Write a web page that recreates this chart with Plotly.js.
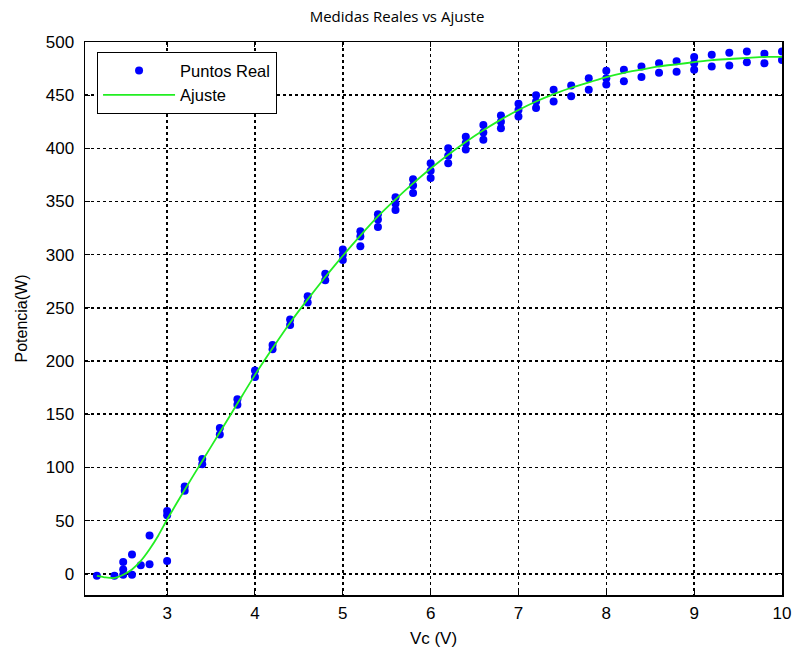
<!DOCTYPE html>
<html>
<head>
<meta charset="utf-8">
<script src="https://cdn.plot.ly/plotly-3.0.1.min.js"></script>
<style>html,body{margin:0;padding:0;background:#fff;}#chart{width:794px;height:650px;}</style>
</head>
<body>
<div id="chart"></div>
<script>
// Measured points (Vc in volts, Potencia in watts)
var vcPoints = [
  2.2,
  2.4,
  2.5, 2.5, 2.5,
  2.6, 2.6,
  2.7,
  2.8, 2.8,
  3.0, 3.0, 3.0,
  3.2, 3.2,
  3.4, 3.4,
  3.6, 3.6,
  3.8, 3.8,
  4.0, 4.0,
  4.2, 4.2,
  4.4, 4.4,
  4.6, 4.6,
  4.8, 4.8,
  5.0, 5.0, 5.0,
  5.2, 5.2, 5.2,
  5.4, 5.4, 5.4,
  5.6, 5.6, 5.6,
  5.8, 5.8, 5.8,
  6.0, 6.0, 6.0,
  6.2, 6.2, 6.2,
  6.4, 6.4, 6.4,
  6.6, 6.6, 6.6,
  6.8, 6.8, 6.8,
  7.0, 7.0, 7.0,
  7.2, 7.2, 7.2,
  7.4, 7.4,
  7.6, 7.6,
  7.8, 7.8,
  8.0, 8.0, 8.0,
  8.2, 8.2,
  8.4, 8.4,
  8.6, 8.6,
  8.8, 8.8,
  9.0, 9.0, 9.0,
  9.2, 9.2,
  9.4, 9.4,
  9.6, 9.6,
  9.8, 9.8,
  10.0, 10.0
];
var potPoints = [
  -2,
  -2,
  -1, 4, 11,
  -1, 18,
  8,
  9, 36,
  12, 55, 59,
  78, 82,
  103, 108,
  131, 137,
  159, 164,
  185, 191,
  211, 215,
  234, 239,
  255, 261,
  276, 282,
  295, 300, 305,
  308, 317, 322,
  326, 333, 338,
  342, 348, 354,
  358, 365, 371,
  372, 379, 386,
  386, 393, 400,
  399, 405, 411,
  408, 415, 422,
  419, 425, 431,
  430, 436, 442,
  438, 444, 450,
  444, 455,
  449, 459,
  455, 466,
  460, 466, 473,
  463, 474,
  467, 477,
  471, 480,
  472, 482,
  474, 480, 486,
  477, 488,
  478, 490,
  481, 491,
  480, 489,
  483, 491
];

// Fitted curve
var vcFit = [2.2, 2.3, 2.4, 2.5, 2.6, 2.7, 2.8, 2.9, 3.0, 3.2, 3.4, 3.6, 3.8, 4.0, 4.2, 4.4, 4.6, 4.8, 5.0, 5.2, 5.4, 5.6, 5.8, 6.0, 6.2, 6.4, 6.6, 6.8, 7.0, 7.2, 7.4, 7.6, 7.8, 8.0, 8.2, 8.4, 8.6, 8.8, 9.0, 9.2, 9.4, 9.6, 9.8, 10.0];
var potFit = [-2, -3.5, -4, -1, 4, 12, 23, 36, 51, 79, 106, 133, 160, 187, 212, 236, 258, 279, 299, 318, 336, 352, 367, 381, 394, 406, 417, 427, 436, 444, 451, 457, 462, 467, 471, 474, 477, 479, 481, 483, 484, 485, 486, 486];

var xTicks = [3, 4, 5, 6, 7, 8, 9, 10];
var yTicks = [0, 50, 100, 150, 200, 250, 300, 350, 400, 450, 500];

var traces = [
  {
    x: vcPoints, y: potPoints, type: 'scatter', mode: 'markers', name: 'Puntos Real',
    marker: {color: '#0000ff', size: 8, line: {width: 0}}
  },
  {
    x: vcFit, y: potFit, type: 'scatter', mode: 'lines', name: 'Ajuste',
    line: {color: '#22ee22', width: 1.8, shape: 'spline', smoothing: 0.6}
  }
];

var axisCommon = {
  showline: true, linecolor: '#000', linewidth: 1.5, mirror: 'ticks',
  ticks: 'inside', ticklen: 5, tickwidth: 1, tickcolor: '#000',
  showgrid: true, gridcolor: '#000', gridwidth: 1.6, griddash: '3px,3px',
  zeroline: false,
  tickfont: {family: 'Liberation Sans, Arial, sans-serif', size: 17, color: '#000'}
};

var layout = {
  width: 794, height: 650,
  margin: {l: 85, r: 12, t: 42, b: 55},
  paper_bgcolor: '#fff', plot_bgcolor: '#fff',
  title: {text: 'Medidas Reales vs Ajuste', x: 0.5, xanchor: 'center', y: 0.974, yanchor: 'middle',
          font: {family: 'Open Sans, sans-serif', size: 15, color: '#000'}},
  xaxis: Object.assign({}, axisCommon, {
    range: [2.065, 10], tickvals: xTicks, ticktext: xTicks.map(String),
    ticklabelstandoff: 2,
    title: {text: 'Vc (V)', standoff: 10, font: {family: 'Liberation Sans, Arial, sans-serif', size: 17, color: '#000'}}
  }),
  yaxis: Object.assign({}, axisCommon, {
    range: [-20, 500], tickvals: yTicks, ticktext: yTicks.map(String),
    ticklabelstandoff: 6,
    title: {text: 'Potencia(W)', standoff: 14, font: {family: 'Liberation Sans, Arial, sans-serif', size: 16, color: '#000'}}
  }),
  showlegend: true,
  legend: {
    x: 0.017, y: 0.982, xanchor: 'left', yanchor: 'top',
    bgcolor: '#fff', bordercolor: '#000', borderwidth: 1.2,
    font: {family: 'Liberation Sans, Arial, sans-serif', size: 16.5, color: '#000'},
    itemwidth: 72, tracegroupgap: 0
  }
};

Plotly.newPlot('chart', traces, layout, {displayModeBar: false, staticPlot: true});
</script>
</body>
</html>
